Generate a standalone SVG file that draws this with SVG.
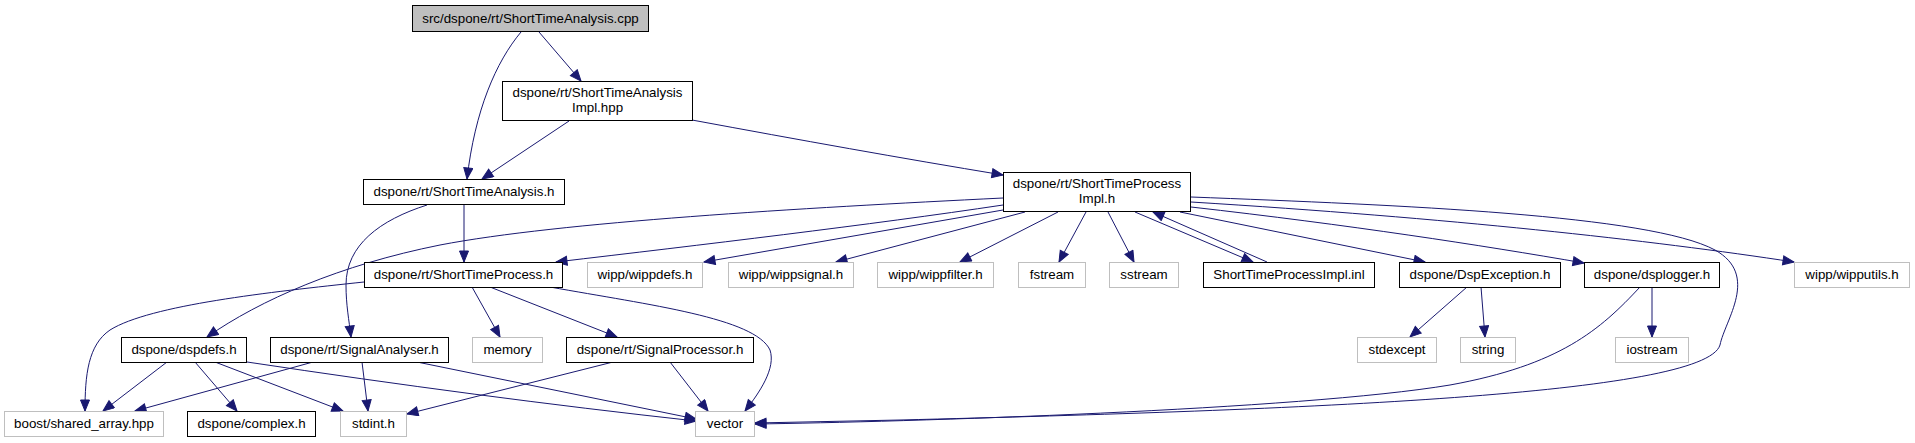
<svg xmlns="http://www.w3.org/2000/svg" width="1915" height="443" viewBox="0 0 1915 443">
<style>
.n rect{fill:#ffffff;stroke:#000000;stroke-width:1}
.g rect{fill:#ffffff;stroke:#bfbfbf;stroke-width:1}
.r rect{fill:#bfbfbf;stroke:#000000;stroke-width:1}
text{font-family:"Liberation Sans",Arial,Helvetica,sans-serif;font-size:13.33px;fill:#000000;text-anchor:middle}
.e path{fill:none;stroke:#191970;stroke-width:1;marker-end:url(#arr)}
</style>
<defs>
<marker id="arr" markerUnits="userSpaceOnUse" markerWidth="14" markerHeight="12" refX="12" refY="5" orient="auto">
<path d="M1,0.5 L12,5 L1,9.5 z" fill="#191970" stroke="#191970" stroke-width="1"/>
</marker>
</defs>
<rect width="1915" height="443" fill="#ffffff"/>
<g id="edges" class="e">
<path d="M521,32 C496,62 475,110 467,179"/>
<path d="M539,32 L581,81"/>
<path d="M569,121 L482,179"/>
<path d="M692,120 C800,140 900,158 1003,175"/>
<path d="M464,205 L464,262"/>
<path d="M427,205 C380,220 346,245 346,285 C346,305 349,320 351,337"/>
<path d="M364,282 C270,292 150,305 110,330 C88,345 85,375 85,411"/>
<path d="M472,287 L500,337"/>
<path d="M490,287 L617,337"/>
<path d="M550,287 C650,305 755,318 770,350 C776,368 760,392 745,411"/>
<path d="M1003,205 C870,225 700,245 556,262"/>
<path d="M1003,198 C800,208 560,222 440,245 C340,265 260,300 207,337"/>
<path d="M1003,210 L704,262"/>
<path d="M1025,212 L836,262"/>
<path d="M1058,212 L960,262"/>
<path d="M1086,212 L1059,262"/>
<path d="M1108,212 L1134,262"/>
<path d="M1135,212 L1253,262"/>
<path d="M1267,262 L1153,212"/>
<path d="M1180,212 L1425,262"/>
<path d="M1191,207 C1350,225 1480,245 1584,263"/>
<path d="M1191,202 C1450,218 1650,240 1794,262"/>
<path d="M1191,197 C1400,205 1650,215 1715,250 C1760,275 1725,320 1720,345 C1705,395 1300,410 900,420 L755,423"/>
<path d="M167,362 L103,411"/>
<path d="M195,362 L237,411"/>
<path d="M215,362 L343,411"/>
<path d="M247,362 C400,385 550,405 696,421"/>
<path d="M313,362 L135,411"/>
<path d="M362,362 L368,411"/>
<path d="M417,362 L696,419"/>
<path d="M613,362 L407,414"/>
<path d="M670,362 L708,411"/>
<path d="M1467,287 L1410,337"/>
<path d="M1481,287 L1485,337"/>
<path d="M1652,287 L1652,337"/>
<path d="M1640,287 C1600,330 1560,365 1450,385 C1300,410 900,422 755,424"/>
</g>
<g id="root" class="r"><rect x="412.5" y="5.5" width="236" height="26"/><text x="530.5" y="22.5">src/dspone/rt/ShortTimeAnalysis.cpp</text></g>
<g id="impl_hpp" class="n"><rect x="502.5" y="81.5" width="190" height="39"/><text x="597.5" y="97">dspone/rt/ShortTimeAnalysis</text><text x="597.5" y="112">Impl.hpp</text></g>
<g id="sta_h" class="n"><rect x="363.5" y="179.5" width="201" height="25"/><text x="464" y="196">dspone/rt/ShortTimeAnalysis.h</text></g>
<g id="stpimpl_h" class="n"><rect x="1003.5" y="172.5" width="187" height="39"/><text x="1097" y="188">dspone/rt/ShortTimeProcess</text><text x="1097" y="203">Impl.h</text></g>
<g id="stp_h" class="n"><rect x="364.5" y="262.5" width="198" height="25"/><text x="463.5" y="279">dspone/rt/ShortTimeProcess.h</text></g>
<g id="wippdefs" class="g"><rect x="587.5" y="262.5" width="115" height="25"/><text x="645" y="279">wipp/wippdefs.h</text></g>
<g id="wippsignal" class="g"><rect x="728.5" y="262.5" width="125" height="25"/><text x="791" y="279">wipp/wippsignal.h</text></g>
<g id="wippfilter" class="g"><rect x="877.5" y="262.5" width="116" height="25"/><text x="935.5" y="279">wipp/wippfilter.h</text></g>
<g id="fstream" class="g"><rect x="1018.5" y="262.5" width="67" height="25"/><text x="1052" y="279">fstream</text></g>
<g id="sstream" class="g"><rect x="1109.5" y="262.5" width="69" height="25"/><text x="1144" y="279">sstream</text></g>
<g id="impl_inl" class="n"><rect x="1203.5" y="262.5" width="171" height="25"/><text x="1289" y="279">ShortTimeProcessImpl.inl</text></g>
<g id="dspexception" class="n"><rect x="1399.5" y="262.5" width="161" height="25"/><text x="1480" y="279">dspone/DspException.h</text></g>
<g id="dsplogger" class="n"><rect x="1584.5" y="262.5" width="135" height="25"/><text x="1652" y="279">dspone/dsplogger.h</text></g>
<g id="wipputils" class="g"><rect x="1794.5" y="262.5" width="115" height="25"/><text x="1852" y="279">wipp/wipputils.h</text></g>
<g id="dspdefs" class="n"><rect x="121.5" y="337.5" width="125" height="25"/><text x="184" y="354">dspone/dspdefs.h</text></g>
<g id="signalanalyser" class="n"><rect x="270.5" y="337.5" width="178" height="25"/><text x="359.5" y="354">dspone/rt/SignalAnalyser.h</text></g>
<g id="memory" class="g"><rect x="472.5" y="337.5" width="70" height="25"/><text x="507.5" y="354">memory</text></g>
<g id="signalprocessor" class="n"><rect x="566.5" y="337.5" width="187" height="25"/><text x="660" y="354">dspone/rt/SignalProcessor.h</text></g>
<g id="stdexcept" class="g"><rect x="1357.5" y="337.5" width="79" height="25"/><text x="1397" y="354">stdexcept</text></g>
<g id="string" class="g"><rect x="1460.5" y="337.5" width="55" height="25"/><text x="1488" y="354">string</text></g>
<g id="iostream" class="g"><rect x="1615.5" y="337.5" width="73" height="25"/><text x="1652" y="354">iostream</text></g>
<g id="boost" class="g"><rect x="4.5" y="411.5" width="159" height="25"/><text x="84" y="428">boost/shared_array.hpp</text></g>
<g id="complex" class="n"><rect x="187.5" y="411.5" width="128" height="25"/><text x="251.5" y="428">dspone/complex.h</text></g>
<g id="stdint" class="g"><rect x="340.5" y="411.5" width="66" height="25"/><text x="373.5" y="428">stdint.h</text></g>
<g id="vector" class="g"><rect x="695.5" y="411.5" width="59" height="25"/><text x="725" y="428">vector</text></g>
</svg>
